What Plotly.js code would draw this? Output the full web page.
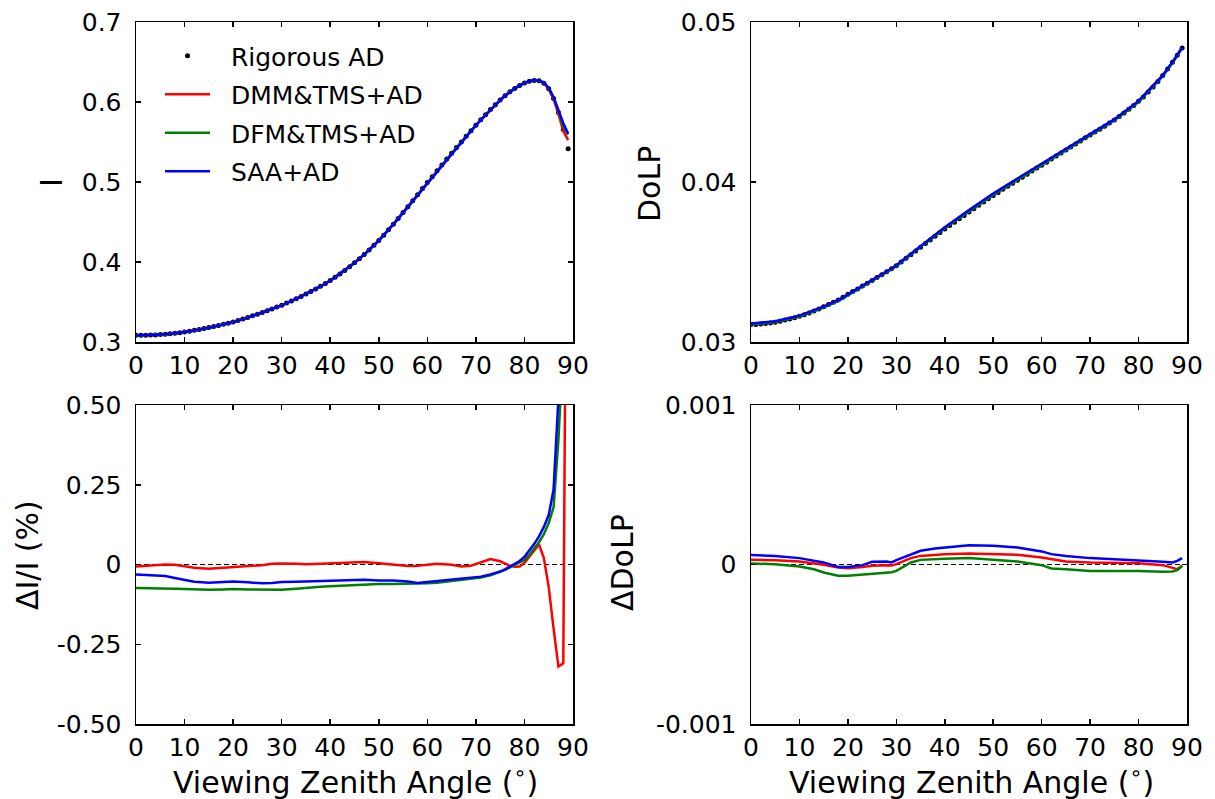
<!DOCTYPE html>
<html><head><meta charset="utf-8">
<script src="https://cdn.plot.ly/plotly-3.0.1.min.js"></script>
<style>html,body{margin:0;padding:0;background:#fff}#chart{width:1215px;height:799px}</style>
</head><body><div id="chart"></div>
<script>
// ---------------- data ----------------
const angles = [0,1,2,3,4,5,6,7,8,9,10,11,12,13,14,15,16,17,18,19,20,21,22,23,24,25,26,27,28,29,
  30,31,32,33,34,35,36,37,38,39,40,41,42,43,44,45,46,47,48,49,50,51,52,53,54,55,56,57,58,59,
  60,61,62,63,64,65,66,67,68,69,70,71,72,73,74,75,76,77,78,79,80,81,82,83,84,85,86,87,88,89];

// Rigorous AD reflectance I
const rigI = [0.3083,0.3083,0.3084,0.3086,0.3089,0.3093,0.3098,0.3104,0.3110,0.3117,
  0.3125,0.3135,0.3146,0.3157,0.3169,0.3181,0.3194,0.3207,0.3221,0.3235,
  0.3250,0.3268,0.3287,0.3307,0.3327,0.3348,0.3369,0.3391,0.3413,0.3436,
  0.3460,0.3486,0.3513,0.3541,0.3570,0.3600,0.3631,0.3663,0.3696,0.3731,
  0.3768,0.3809,0.3851,0.3895,0.3942,0.3991,0.4042,0.4095,0.4151,0.4209,
  0.4270,0.4335,0.4403,0.4473,0.4545,0.4618,0.4692,0.4767,0.4842,0.4918,
  0.4993,0.5067,0.5140,0.5213,0.5286,0.5358,0.5430,0.5501,0.5571,0.5641,
  0.5710,0.5777,0.5842,0.5905,0.5966,0.6024,0.6078,0.6127,0.6170,0.6207,
  0.6237,0.6259,0.6270,0.6265,0.6235,0.6165,0.6045,0.5870,0.5655,0.5415];

// Rigorous AD DoLP
const rigD = [0.03109,0.03110,0.03112,0.03115,0.03119,0.03124,0.03130,0.03137,0.03144,0.03152,
  0.03161,0.03171,0.03182,0.03194,0.03207,0.03220,0.03234,0.03248,0.03263,0.03280,
  0.03298,0.03315,0.03332,0.03350,0.03367,0.03385,0.03403,0.03421,0.03439,0.03458,
  0.03477,0.03500,0.03523,0.03546,0.03569,0.03592,0.03615,0.03638,0.03661,0.03684,
  0.03707,0.03728,0.03749,0.03770,0.03791,0.03812,0.03833,0.03854,0.03875,0.03896,
  0.03916,0.03935,0.03954,0.03973,0.03992,0.04011,0.04030,0.04049,0.04068,0.04087,
  0.04105,0.04124,0.04143,0.04162,0.04181,0.04200,0.04219,0.04238,0.04257,0.04276,
  0.04294,0.04312,0.04330,0.04349,0.04368,0.04388,0.04409,0.04431,0.04454,0.04478,
  0.04504,0.04532,0.04562,0.04594,0.04628,0.04666,0.04706,0.04748,0.04792,0.04838];

// Relative intensity error dI/I (%)
const dIAngles = [0,3,6,8,10,12,15,18,20,23,26,28,30,33,35,38,40,43,45,47,50,53,56,58,60,62,65,67,69,71,73,75,76,77,78,79,80,81,82,83,84,85,86,87,88,89];
const dI_DMM = [-0.006,-0.002,0.000,-0.001,-0.005,-0.010,-0.013,-0.010,-0.008,-0.006,-0.002,0.002,0.003,0.002,0.001,0.002,0.003,0.005,0.007,0.008,
  0.004,-0.001,-0.005,-0.004,0.000,0.002,-0.001,-0.006,-0.004,0.006,0.017,0.010,0.003,-0.004,-0.007,-0.006,0.005,0.025,0.045,0.063,
  0.020,-0.071,-0.200,-0.320,-0.310,2.0];
const dI_DFM = [-0.074,-0.074,-0.075,-0.076,-0.077,-0.078,-0.079,-0.078,-0.077,-0.078,-0.079,-0.080,-0.079,-0.076,-0.073,-0.070,-0.068,-0.066,-0.064,-0.062,
  -0.061,-0.061,-0.061,-0.060,-0.059,-0.057,-0.052,-0.049,-0.046,-0.041,-0.034,-0.024,-0.017,-0.009,-0.002,0.005,0.014,0.030,0.050,0.070,
  0.095,0.130,0.180,0.390,0.700,3.3];
const dI_SAA = [-0.031,-0.033,-0.036,-0.042,-0.048,-0.054,-0.057,-0.055,-0.053,-0.056,-0.059,-0.058,-0.055,-0.054,-0.053,-0.051,-0.050,-0.049,-0.049,-0.048,
  -0.050,-0.050,-0.053,-0.058,-0.055,-0.052,-0.048,-0.046,-0.043,-0.038,-0.031,-0.022,-0.015,-0.007,0.001,0.011,0.024,0.044,0.064,0.088,
  0.118,0.155,0.235,0.520,1.400,3.5];

// DoLP absolute error
const dDAngles = [0,5,10,13,15,18,20,23,25,28,29,30,33,35,38,40,45,50,55,60,62,65,70,75,80,85,87,88,89];
const dD_DMM = [2.9e-5,2.7e-5,1.9e-5,0.8e-5,-0.2e-5,-1.9e-5,-2.3e-5,-1.5e-5,-0.8e-5,-0.4e-5,-0.6e-5,0.2e-5,4.0e-5,5.4e-5,6.2e-5,6.5e-5,6.9e-5,6.5e-5,6.1e-5,4.4e-5,
  3.5e-5,1.9e-5,1.3e-5,1.0e-5,0.8e-5,-0.4e-5,-1.9e-5,-2.9e-5,-0.8e-5];
const dD_DFM = [0.6e-5,0.2e-5,-1.3e-5,-3.0e-5,-5.0e-5,-7.1e-5,-7.1e-5,-6.2e-5,-5.6e-5,-5.0e-5,-4.8e-5,-4.0e-5,1.3e-5,2.9e-5,3.4e-5,3.6e-5,4.0e-5,3.1e-5,1.9e-5,-0.4e-5,
  -2.5e-5,-2.9e-5,-4.0e-5,-4.0e-5,-4.0e-5,-4.6e-5,-4.4e-5,-3.6e-5,-0.8e-5];
const dD_SAA = [5.9e-5,5.4e-5,4.0e-5,2.5e-5,1.3e-5,-1.5e-5,-1.5e-5,-0.4e-5,1.7e-5,1.9e-5,1.3e-5,2.7e-5,6.5e-5,8.6e-5,10.0e-5,10.7e-5,12.1e-5,11.7e-5,10.7e-5,8.2e-5,
  6.5e-5,5.4e-5,4.0e-5,3.3e-5,2.7e-5,1.7e-5,1.3e-5,2.3e-5,4.0e-5];

const zeroX = [0, 89];
const zeroY = [0, 0];

const seriesNames = ['Rigorous AD', 'DMM&TMS+AD', 'DFM&TMS+AD', 'SAA+AD'];
const xTicks = [0,10,20,30,40,50,60,70,80,90];
const yTicksI = [0.3,0.4,0.5,0.6,0.7];
const yTextI = ['0.3','0.4','0.5','0.6','0.7'];
const yTicksD = [0.03,0.04,0.05];
const yTextD = ['0.03','0.04','0.05'];
const yTicksdI = [-0.5,-0.25,0,0.25,0.5];
const yTextdI = ['-0.50','-0.25','0','0.25','0.50'];
const yTicksdD = [-0.001,0,0.001];
const yTextdD = ['-0.001','0','0.001'];

// ---------------- derived model curves ----------------
const rigAt = (arr, a) => arr[angles.indexOf(a)];
const modelI = d => dIAngles.map((a, i) => rigAt(rigI, a) * (1 + d[i] / 100));
const modelD = d => dDAngles.map((a, i) => rigAt(rigD, a) + d[i]);

const colors = ['#ff0000', '#008000', '#0000ff'];
const LW = 2.5;
const FONT = 'DejaVu Sans';
const PAD = '\u00a0\u00a0';  // gap between legend symbol and label

const traces = [];
// top-left: I
traces.push({x: angles, y: rigI, mode: 'markers', name: PAD + seriesNames[0], xaxis: 'x', yaxis: 'y',
  marker: {color: '#000', size: 5}, legendgroup: 'g0'});
[dI_DMM, dI_DFM, dI_SAA].forEach((d, k) => traces.push({x: dIAngles, y: modelI(d), mode: 'lines',
  name: PAD + seriesNames[k + 1], xaxis: 'x', yaxis: 'y', line: {color: colors[k], width: LW}, legendgroup: 'g' + (k + 1)}));
// top-right: DoLP
traces.push({x: angles, y: rigD, mode: 'markers', xaxis: 'x2', yaxis: 'y2', showlegend: false,
  marker: {color: '#000', size: 5}});
[dD_DMM, dD_DFM, dD_SAA].forEach((d, k) => traces.push({x: dDAngles, y: modelD(d), mode: 'lines',
  xaxis: 'x2', yaxis: 'y2', showlegend: false, line: {color: colors[k], width: LW}}));
// bottom-left: dI/I
traces.push({x: zeroX, y: zeroY, mode: 'lines', xaxis: 'x3', yaxis: 'y3', showlegend: false,
  line: {color: '#000', width: 1, dash: '5px,3px'}});
[dI_DMM, dI_DFM, dI_SAA].forEach((d, k) => traces.push({x: dIAngles, y: d, mode: 'lines',
  xaxis: 'x3', yaxis: 'y3', showlegend: false, line: {color: colors[k], width: LW}}));
// bottom-right: dDoLP
traces.push({x: zeroX, y: zeroY, mode: 'lines', xaxis: 'x4', yaxis: 'y4', showlegend: false,
  line: {color: '#000', width: 1, dash: '5px,3px'}});
[dD_DMM, dD_DFM, dD_SAA].forEach((d, k) => traces.push({x: dDAngles, y: d, mode: 'lines',
  xaxis: 'x4', yaxis: 'y4', showlegend: false, line: {color: colors[k], width: LW}}));

const W = 1215, H = 799;
const px = v => v / W, py = v => 1 - v / H;
const tickFont = {family: FONT, size: 25, color: '#000'};

function xAxis(dom, anchor) {
  return {domain: dom, anchor: anchor, range: [0, 90], tickvals: xTicks, ticks: 'inside', ticklen: 5, tickwidth: 1.5,
    tickcolor: '#000', showline: true, linecolor: '#000', linewidth: 1.5, mirror: 'ticks', showgrid: false,
    zeroline: false, tickfont: tickFont, ticklabelstandoff: 0, fixedrange: true};
}
function yAxis(dom, anchor, range, vals, text) {
  return {domain: dom, anchor: anchor, range: range, tickvals: vals, ticktext: text, ticks: 'inside', ticklen: 5, tickwidth: 1.5,
    tickcolor: '#000', showline: true, linecolor: '#000', linewidth: 1.5, mirror: 'ticks', showgrid: false,
    zeroline: false, tickfont: tickFont, ticklabelstandoff: 8, fixedrange: true};
}
const xL = [px(136), px(573)], xR = [px(751), px(1187)];
const yT = [py(342), py(22)], yB = [py(724), py(405)];

const titleFont = {family: FONT, size: 30, color: '#000'};
const ann = (text, x, y, rot) => ({text: text, x: px(x), y: py(y), xref: 'paper', yref: 'paper', showarrow: false,
  textangle: rot, font: titleFont, xanchor: 'center', yanchor: 'middle'});

const layout = {
  width: W, height: H, margin: {l: 0, r: 0, t: 0, b: 0}, paper_bgcolor: '#fff', plot_bgcolor: '#fff',
  font: {family: FONT, color: '#000'},
  xaxis: xAxis(xL, 'y'), yaxis: yAxis(yT, 'x', [0.3, 0.7], yTicksI, yTextI),
  xaxis2: xAxis(xR, 'y2'), yaxis2: yAxis(yT, 'x2', [0.03, 0.05], yTicksD, yTextD),
  xaxis3: xAxis(xL, 'y3'), yaxis3: yAxis(yB, 'x3', [-0.5, 0.5], yTicksdI, yTextdI),
  xaxis4: xAxis(xR, 'y4'), yaxis4: yAxis(yB, 'x4', [-0.001, 0.001], yTicksdD, yTextdD),
  showlegend: true,
  legend: {x: px(160), y: py(33), xanchor: 'left', yanchor: 'top', bgcolor: 'rgba(0,0,0,0)', borderwidth: 0,
    font: {family: FONT, size: 25, color: '#000'}, itemwidth: 45, traceorder: 'grouped', tracegroupgap: 3},
  annotations: [
    ann('I', 51, 183, -90),
    ann('DoLP', 650, 184, -90),
    ann('ΔI/I (%)', 27, 555, -90),
    ann('ΔDoLP', 622, 563, -90),
    ann('Viewing Zenith Angle (<sup>∘</sup>)', 355, 780, 0),
    ann('Viewing Zenith Angle (<sup>∘</sup>)', 971, 780, 0)
  ]
};

Plotly.newPlot('chart', traces, layout, {displayModeBar: false, staticPlot: true});
</script></body></html>
